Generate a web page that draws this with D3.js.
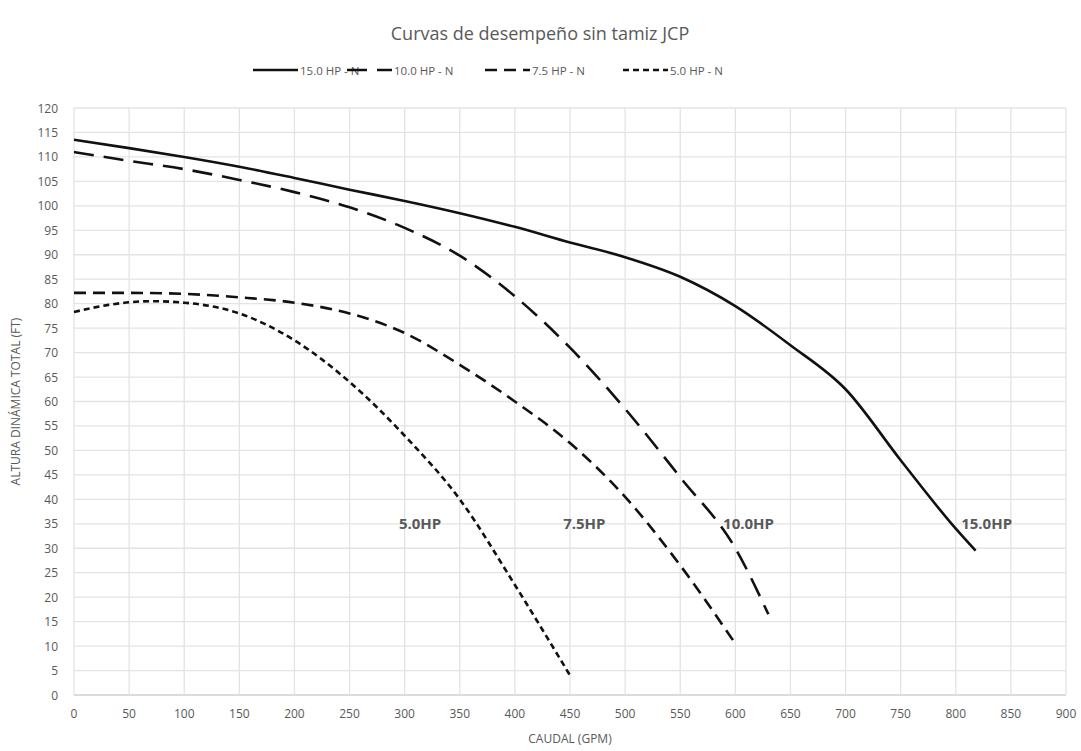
<!DOCTYPE html>
<html>
<head>
<meta charset="utf-8">
<script src="https://cdn.jsdelivr.net/npm/d3@7"></script>
<style>
  body { margin: 0; background: #fff; font-family: "Open Sans", sans-serif; }
</style>
</head>
<body>
<svg id="chart" width="1081" height="751"></svg>
<script>
// Pump curves
const hp15 = [[0,113.5],[50,111.8],[100,110],[150,108],[200,105.7],[250,103.3],[300,101],[350,98.5],[400,95.7],[450,92.5],[500,89.5],[550,85.5],[600,79.5],[650,71.5],[700,62.5],[750,48],[800,34],[818,29.5]];
const hp10 = [[0,111],[50,109.2],[100,107.5],[150,105.3],[200,102.8],[250,99.7],[300,95.5],[350,89.8],[400,81.5],[450,71],[500,58.5],[550,44.5],[600,30],[630,16.5]];
const hp75 = [[0,82.2],[50,82.2],[100,82],[150,81.3],[200,80.2],[250,78],[300,74],[350,67.5],[400,60],[450,51.5],[500,40.5],[550,26.5],[600,10.5]];
const hp5 = [[0,78.3],[30,79.7],[70,80.5],[100,80.2],[150,78],[200,72.5],[250,64],[300,53],[350,40],[400,22.5],[450,4]];

const seriesNames = ["15.0 HP - N", "10.0 HP - N", "7.5 HP - N", "5.0 HP - N"];
const dashes = [null, "20,10", "12,7", "6,4"];
const curveLabels = [["5.0HP", 314, 35], ["7.5HP", 463, 35], ["10.0HP", 612, 35], ["15.0HP", 828, 35]];
const xTicks = d3.range(0, 901, 50);
const yTicks = d3.range(0, 121, 5);

const svg = d3.select("#chart");
const m = { left: 74, right: 15, top: 108, bottom: 56 };
const W = 1081, H = 751;
const x = d3.scaleLinear().domain([0, 900]).range([m.left, W - m.right]);
const y = d3.scaleLinear().domain([0, 120]).range([H - m.bottom, m.top]);

// grid
svg.append("g").selectAll("line").data(yTicks).join("line")
  .attr("x1", x(0)).attr("x2", x(900)).attr("y1", d => y(d)).attr("y2", d => y(d))
  .attr("stroke", d => d === 0 ? "#cfcfcf" : "#e3e3e3").attr("stroke-width", 1.3);
svg.append("g").selectAll("line").data(xTicks).join("line")
  .attr("x1", d => x(d)).attr("x2", d => x(d)).attr("y1", y(0)).attr("y2", y(120))
  .attr("stroke", "#e3e3e3").attr("stroke-width", 1.3);

// axis labels
svg.append("g").selectAll("text").data(yTicks).join("text")
  .attr("x", x(0) - 16).attr("y", d => y(d) + 4.5).attr("text-anchor", "end")
  .attr("font-size", 12).attr("fill", "#595959").text(d => d);
svg.append("g").selectAll("text").data(xTicks).join("text")
  .attr("x", d => x(d)).attr("y", y(0) + 23).attr("text-anchor", "middle")
  .attr("font-size", 12).attr("fill", "#595959").text(d => d);

svg.append("text").attr("x", (x(0) + x(900)) / 2).attr("y", 743).attr("text-anchor", "middle")
  .attr("font-size", 12).attr("fill", "#595959").text("CAUDAL (GPM)");
svg.append("text").attr("transform", `translate(20,${(y(0) + y(120)) / 2}) rotate(-90)`)
  .attr("text-anchor", "middle").attr("font-size", 12).attr("fill", "#595959")
  .text("ALTURA DINÁMICA TOTAL (FT)");

svg.append("text").attr("x", 540).attr("y", 40).attr("text-anchor", "middle")
  .attr("font-size", 18).attr("fill", "#595959").text("Curvas de desempeño sin tamiz JCP");

// curves
const line = d3.line().x(d => x(d[0])).y(d => y(d[1])).curve(d3.curveMonotoneX);
[hp15, hp10, hp75, hp5].forEach((data, i) => {
  svg.append("path").datum(data).attr("d", line)
    .attr("fill", "none").attr("stroke", "#111").attr("stroke-width", 2.6)
    .attr("stroke-dasharray", dashes[i]);
});

svg.append("g").selectAll("text").data(curveLabels).join("text")
  .attr("x", d => x(d[1])).attr("y", d => y(d[2]) + 5).attr("text-anchor", "middle")
  .attr("font-size", 15).attr("font-weight", "bold").attr("fill", "#595959").text(d => d[0]);

// legend
const legX = [253, 347, 485, 623];
seriesNames.forEach((name, i) => {
  const g = svg.append("g").attr("transform", `translate(${legX[i]},70)`);
  g.append("line").attr("x1", 0).attr("x2", 45).attr("stroke", "#111").attr("stroke-width", 2.6)
    .attr("stroke-dasharray", dashes[i]);
  g.append("text").attr("x", 47).attr("y", 4.5).attr("font-size", 11.5).attr("fill", "#595959").text(name);
});
</script>
</body>
</html>
